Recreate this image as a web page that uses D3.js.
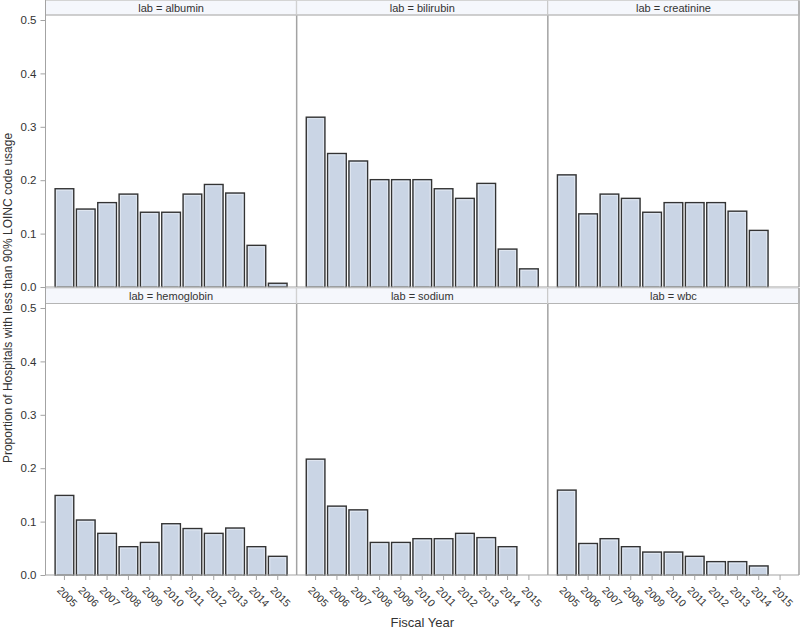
<!DOCTYPE html>
<html><head><meta charset="utf-8">
<script src="https://cdn.jsdelivr.net/npm/d3@7/dist/d3.min.js"></script>
<style>
body{margin:0;background:#fff;}
svg{display:block;font-family:Arial,"Liberation Sans",sans-serif;}
</style></head>
<body><svg id="c" width="800" height="633"></svg>
<script>
const years = ["2005","2006","2007","2008","2009","2010","2011","2012","2013","2014","2015"];
const labs = ["albumin","bilirubin","creatinine","hemoglobin","sodium","wbc"];
const albumin    = [0.184,0.146,0.158,0.174,0.140,0.140,0.174,0.192,0.176,0.078,0.007];
const bilirubin  = [0.318,0.250,0.236,0.201,0.201,0.201,0.184,0.166,0.194,0.071,0.034];
const creatinine = [0.210,0.137,0.174,0.166,0.140,0.158,0.158,0.158,0.142,0.106,null];
const hemoglobin = [0.149,0.103,0.078,0.053,0.061,0.096,0.087,0.078,0.088,0.053,0.035];
const sodium     = [0.217,0.129,0.122,0.061,0.061,0.068,0.068,0.078,0.070,0.053,null];
const wbc        = [0.159,0.059,0.068,0.053,0.043,0.043,0.035,0.025,0.025,0.017,null];
const yTicks = [0,0.1,0.2,0.3,0.4,0.5];
const seriesByLab = {albumin, bilirubin, creatinine, hemoglobin, sodium, wbc};

const svg = d3.select("#c");
const L = 45.5, R = 799;
const pw = (R - L) / 3;
const rows = [
  {hTop: 0.5, hBot: 15, bottom: 287},
  {hTop: 288, hBot: 303.5, bottom: 575}
];
const yH = 267;
const textCol = "#333";
const lineCol = "#a3a3a3";

labs.forEach((lab, i) => {
  const r = rows[Math.floor(i / 3)], c = i % 3;
  const x0 = L + c * pw, x1 = x0 + pw;
  const x = d3.scaleBand().domain(years).range([x0, x1]).paddingInner(0.125).paddingOuter(0.45);
  const y = d3.scaleLinear().domain([0, 0.5]).range([r.bottom, r.bottom - yH]);
  const g = svg.append("g");
  // header strip
  g.append("rect").attr("x", x0).attr("y", r.hTop).attr("width", pw).attr("height", r.hBot - r.hTop)
    .attr("fill", "#f5f7fc").attr("stroke", "#d4d4d4").attr("stroke-width", 1);
  g.append("text").attr("x", (x0 + x1) / 2).attr("y", (r.hTop + r.hBot) / 2 + 4)
    .attr("text-anchor", "middle").attr("font-size", 11).attr("fill", textCol)
    .text("lab = " + lab);
  // bars
  const vals = seriesByLab[lab];
  const data = years.map((yr, k) => ({yr, v: vals[k]})).filter(d => d.v != null);
  g.selectAll("rect.bar").data(data).join("rect").attr("class", "bar")
    .attr("x", d => x(d.yr)).attr("width", x.bandwidth())
    .attr("y", d => y(d.v)).attr("height", d => y(0) - y(d.v))
    .attr("fill", "#cad5e5").attr("stroke", "#333").attr("stroke-width", 1.4);
  g.selectAll("rect.inner").data(data.filter(d => y(0) - y(d.v) > 4)).join("rect").attr("class", "inner")
    .attr("x", d => x(d.yr) + 1.5).attr("width", x.bandwidth() - 3)
    .attr("y", d => y(d.v) + 1.5).attr("height", d => y(0) - y(d.v) - 1.5)
    .attr("fill", "none").attr("stroke", "#e4eaf3").attr("stroke-width", 0.8);
  // panel borders
  g.append("line").attr("x1", x1).attr("x2", x1).attr("y1", r.hTop).attr("y2", r.bottom)
    .attr("stroke", lineCol).attr("stroke-width", 1.5);
  g.append("line").attr("x1", x0).attr("x2", x1).attr("y1", r.hBot).attr("y2", r.hBot)
    .attr("stroke", "#b5b5b5").attr("stroke-width", 1);
  g.append("line").attr("x1", x0).attr("x2", x1).attr("y1", r.bottom).attr("y2", r.bottom)
    .attr("stroke", lineCol).attr("stroke-width", 1);
  // y axis on first column
  if (c === 0) {
    const ya = g.append("g").attr("transform", `translate(${L},0)`)
      .call(d3.axisLeft(y).tickValues(yTicks).tickFormat(d3.format(".1f")).tickSize(5).tickPadding(4).tickSizeOuter(0));
    ya.select(".domain").attr("stroke", lineCol).attr("d", `M0,${r.hBot}V${r.bottom}`);
    ya.selectAll(".tick line").attr("stroke", lineCol);
    ya.selectAll(".tick text").attr("fill", textCol).attr("font-size", 11.5).attr("font-family", "Arial,'Liberation Sans',sans-serif");
  }
  // x axis on bottom row
  if (i >= 3) {
    const xa = g.append("g").attr("transform", `translate(0,${r.bottom})`)
      .call(d3.axisBottom(x).tickSize(5).tickSizeOuter(0));
    xa.select(".domain").remove();
    xa.selectAll(".tick line").attr("stroke", lineCol);
    xa.selectAll(".tick text").attr("fill", textCol).attr("font-size", 10.5)
      .attr("font-family", "Arial,'Liberation Sans',sans-serif")
      .attr("text-anchor", "start").attr("dy", null).attr("y", null)
      .attr("transform", "translate(-8,16) rotate(45)");
  }
});
// left border line across header strips
svg.append("line").attr("x1", L).attr("x2", L).attr("y1", 0).attr("y2", 575).attr("stroke", lineCol).attr("stroke-width", 1);

svg.append("text").attr("transform", `translate(12,298) rotate(-90)`).attr("text-anchor", "middle")
  .attr("font-size", 12).attr("fill", textCol)
  .text("Proportion of Hospitals with less than 90% LOINC code usage");
svg.append("text").attr("x", (L + R) / 2).attr("y", 627).attr("text-anchor", "middle")
  .attr("font-size", 13).attr("fill", textCol).text("Fiscal Year");
</script></body></html>
